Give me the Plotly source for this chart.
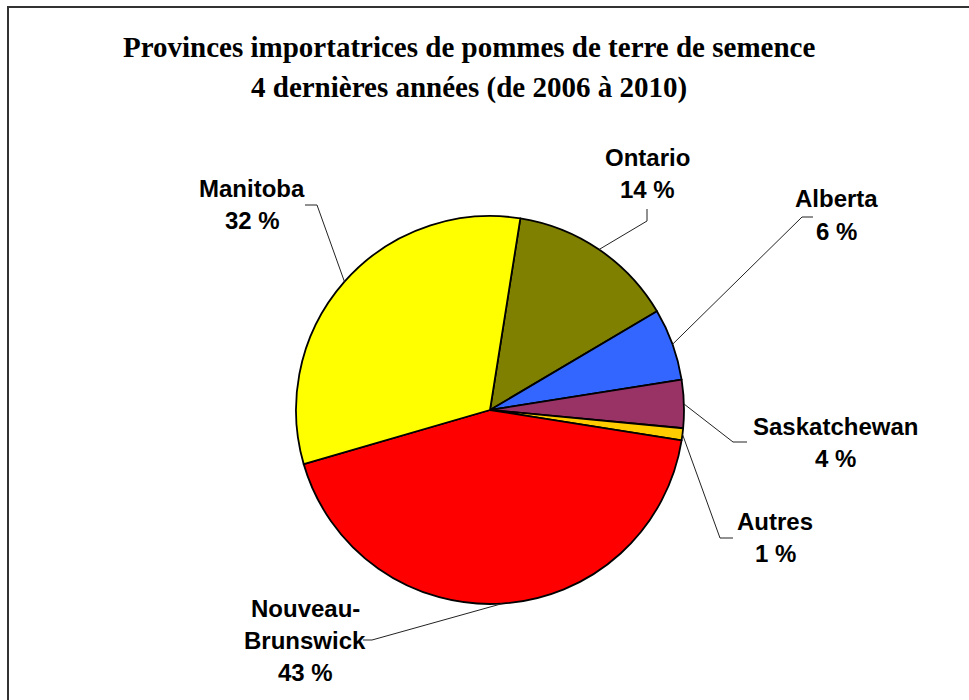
import math
import plotly.graph_objects as go

W, H = 969, 700

# Data
provinces = ["Ontario", "Alberta", "Saskatchewan", "Autres", "Nouveau-Brunswick", "Manitoba"]
percents = [14, 6, 4, 1, 43, 32]
label_lines = [["Ontario"], ["Alberta"], ["Saskatchewan"], ["Autres"], ["Nouveau-", "Brunswick"], ["Manitoba"]]
colors = ["#808000", "#3366FF", "#993366", "#FFCC00", "#FF0000", "#FFFF00"]
title_lines = ["Provinces importatrices de pommes de terre de semence",
               "4 dernières années (de 2006 à 2010)"]

# Layout (pixels)
cx, cy, R = 490, 410, 194
rotation = 9
label_x = [647, 836, 835, 775, 305, 252]
label_y0 = [157, 199, 426, 521, 608, 188]
line_gap = 32
elbow = [(647, 221), (802, 217), (733, 442), (720, 538), (372, 640), (317, 205)]
tail = [(647, 209), (813, 217), (747, 442), (733, 538), (363, 640), (305, 205)]

def px(x):
    return x / W

def py(y):
    return 1 - y / H

fig = go.Figure(go.Pie(
    labels=provinces, values=percents, sort=False, direction="clockwise",
    rotation=rotation, textinfo="none", hoverinfo="label+percent",
    marker=dict(colors=colors, line=dict(color="black", width=1.8)),
    domain=dict(x=[px(cx - R), px(cx + R)], y=[py(cy + R), py(cy - R)]),
    showlegend=False,
))

# frame: only left and top edges visible in the window
shapes = [dict(type="path", xref="paper", yref="paper",
               path=f"M {px(8)},{py(H)} L {px(8)},{py(7)} L {px(W)},{py(7)}",
               line=dict(color="#333333", width=2))]
annotations = []
total = sum(percents)
cum = 0
for i, v in enumerate(percents):
    mid = rotation + (cum + v / 2) / total * 360
    cum += v
    a = math.radians(mid)
    ex, ey = cx + R * math.sin(a), cy - R * math.cos(a)
    path = f"M {px(ex)},{py(ey)} L {px(elbow[i][0])},{py(elbow[i][1])} L {px(tail[i][0])},{py(tail[i][1])}"
    shapes.append(dict(type="path", xref="paper", yref="paper", path=path,
                       line=dict(color="#222222", width=1)))
    lines = label_lines[i] + [f"{v} %"]
    for j, t in enumerate(lines):
        annotations.append(dict(x=px(label_x[i]), y=py(label_y0[i] + j * line_gap),
                                xref="paper", yref="paper", text=f"<b>{t}</b>",
                                showarrow=False, xanchor="center", yanchor="middle",
                                font=dict(family="Liberation Sans, Arial", size=24, color="black")))

for j, t in enumerate(title_lines):
    annotations.append(dict(x=px(469), y=py(47 + j * 41), xref="paper", yref="paper",
                            text=f"<b>{t}</b>", showarrow=False, xanchor="center", yanchor="middle",
                            font=dict(family="Liberation Serif, Times New Roman", size=29, color="black")))

fig.update_layout(width=W, height=H, margin=dict(l=0, r=0, t=0, b=0),
                  paper_bgcolor="white", plot_bgcolor="white",
                  shapes=shapes, annotations=annotations)
fig.write_html("out.html", config={"displayModeBar": False},
               post_script=("document.documentElement.style.margin='0';"
                            "document.documentElement.style.overflow='hidden';"
                            "document.body.style.margin='0';document.body.style.overflow='hidden';"))
